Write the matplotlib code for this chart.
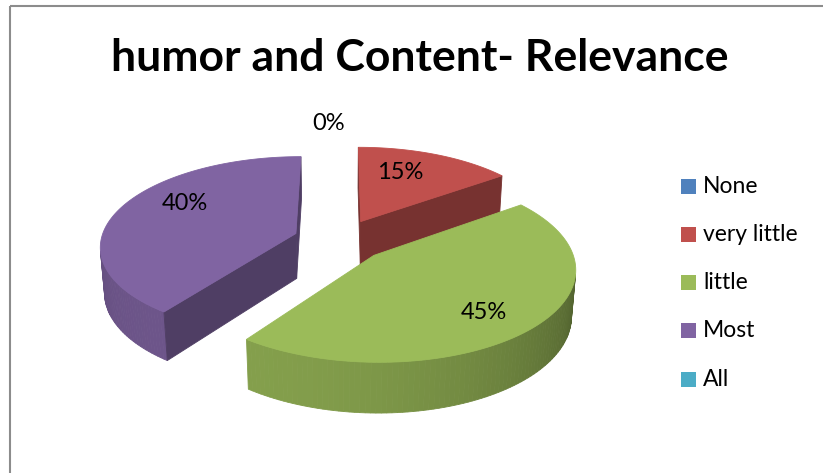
import numpy as np
import matplotlib.pyplot as plt
from matplotlib.patches import Polygon, Rectangle

categories = ["None", "very little", "little", "Most", "All"]
percent = [0, 15, 45, 40, 0]
colors = ["#4F81BD", "#C0504D", "#9BBB59", "#8064A2", "#4BACC6"]
title = "humor and Content- Relevance"

# label placement on each slice: radius fraction and angle shift (deg)
label_r = [1.36, 0.68, 0.755, 0.713, 1.36]
label_dang = [-3, -7, 4, 13, -3]

# 3d view, tuned by eye against the excel picture (pixel units)
TILT = np.radians(27)
DIST = 6.8
FOCAL = 1326
CX, CY = 340, 240
THICK = 0.265
EXPLODE = 0.24
LIGHT = np.array([-0.6, -0.8])
CUT_SHADE = 0.62
FONT = "Lato"

cam = np.array([0.0, -DIST * np.cos(TILT), DIST * np.sin(TILT)])


def project(X, Z, H=0.0):
    yc = Z * np.sin(TILT) + H * np.cos(TILT)
    d = DIST + Z * np.cos(TILT) - H * np.sin(TILT)
    return CX + FOCAL * X / d, CY - FOCAL * yc / d


def facing(p, n):
    return np.dot(n, cam - p) > 0


def darker(col, k):
    return tuple(np.array(plt.matplotlib.colors.to_rgb(col)) * k)


fig = plt.figure(figsize=(8.23, 4.73), dpi=100)
ax = fig.add_axes([0, 0, 1, 1])
ax.set_xlim(0, 823)
ax.set_ylim(473, 0)
ax.axis("off")

total = sum(percent)
starts = np.concatenate([[0], np.cumsum(percent)[:-1]]) / total * 360
ends = np.cumsum(percent) / total * 360

slices = []
for i in range(len(percent)):
    mid = np.radians((starts[i] + ends[i]) / 2)
    ox, oz = EXPLODE * np.sin(mid), EXPLODE * np.cos(mid)
    slices.append((oz, i, ox))

# far slices first
for oz, i, ox in sorted(slices, reverse=True):
    if percent[i] == 0:
        continue
    a0, a1 = np.radians(starts[i]), np.radians(ends[i])
    ts = np.linspace(a0, a1, 120)
    col = colors[i]

    # outer wall, lit from front-left
    for t0, t1 in zip(ts[:-1], ts[1:]):
        tm = (t0 + t1) / 2
        n = np.array([np.sin(tm), np.cos(tm), 0.0])
        p = np.array([ox + np.sin(tm), oz + np.cos(tm), -THICK / 2])
        if not facing(p, n):
            continue
        pts = [project(ox + np.sin(t0), oz + np.cos(t0), 0),
               project(ox + np.sin(t1), oz + np.cos(t1), 0),
               project(ox + np.sin(t1), oz + np.cos(t1), -THICK),
               project(ox + np.sin(t0), oz + np.cos(t0), -THICK)]
        k = 0.4 + 0.45 * (np.dot(n[:2], LIGHT) + 1) / 2
        c = darker(col, k)
        ax.add_patch(Polygon(pts, closed=True, fc=c, ec=c, lw=0.6))

    # cut faces
    for a, sgn in ((a0, -1), (a1, 1)):
        na = a + sgn * np.pi / 2
        n = np.array([np.sin(na), np.cos(na), 0.0])
        p = np.array([ox + 0.5 * np.sin(a), oz + 0.5 * np.cos(a), -THICK / 2])
        if not facing(p, n):
            continue
        pts = [project(ox, oz, 0),
               project(ox + np.sin(a), oz + np.cos(a), 0),
               project(ox + np.sin(a), oz + np.cos(a), -THICK),
               project(ox, oz, -THICK)]
        c = darker(col, CUT_SHADE)
        ax.add_patch(Polygon(pts, closed=True, fc=c, ec=c, lw=0.6))

    # top
    pts = [project(ox, oz, 0)] + [project(ox + np.sin(t), oz + np.cos(t), 0) for t in ts]
    ax.add_patch(Polygon(pts, closed=True, fc=col, ec=col, lw=0.6))

# data labels (the two 0% slices sit on the same spot, show one)
placed = []
for oz, i, ox in slices:
    a = np.radians((starts[i] + ends[i]) / 2 + label_dang[i])
    x, y = project(ox + label_r[i] * np.sin(a), oz + label_r[i] * np.cos(a), 0)
    if any(abs(x - px) < 5 and abs(y - py) < 5 for px, py in placed):
        continue
    placed.append((x, y))
    ax.text(x, y, f"{percent[i] / total:.0%}", fontsize=17, family=FONT,
            ha="center", va="center", color="black")

# legend
for i, name in enumerate(categories):
    y = 186 + 48.3 * i
    ax.add_patch(Rectangle((681, y - 7.5), 15, 15, fc=colors[i], ec="none"))
    ax.text(703, y, name, fontsize=16.5, family=FONT, ha="left", va="center")

ax.text(420, 58, title, fontsize=32, fontweight="bold", family=FONT,
        ha="center", va="center")

# chart frame (only top and left visible in the crop)
ax.plot([10.5, 10.5], [6.5, 473], color="#8c8c8c", lw=1.5, solid_capstyle="butt")
ax.plot([10.5, 823], [6.5, 6.5], color="#8c8c8c", lw=1.5, solid_capstyle="butt")

plt.savefig("out.png", dpi=100)
